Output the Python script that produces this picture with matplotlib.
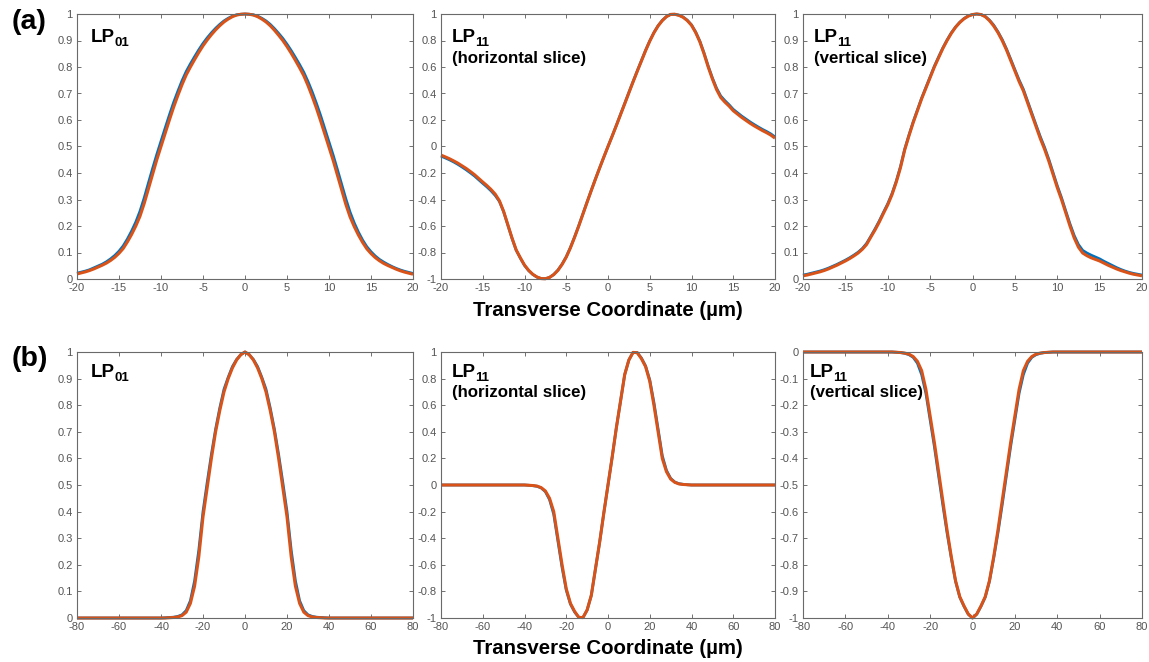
import numpy as np
import matplotlib
matplotlib.use('Agg')
import matplotlib.pyplot as plt
from matplotlib import ticker

plt.rcParams['font.family'] = ['Liberation Sans', 'DejaVu Sans']
plt.rcParams['axes.unicode_minus'] = False

# sample positions (um): 0.5 um steps for (a), 2 um steps for (b)
x_top = np.arange(-20, 20.25, 0.5)
x_bot = [-80, -60, -40, -38, -36, -34, -32, -30, -28, -26, -24, -22, -20, -18, -16, -14, -12, -10, -8, -6, -4, -2, 0,
         2, 4, 6, 8, 10, 12, 14, 16, 18, 20, 22, 24, 26, 28, 30, 32, 34, 36, 38, 40, 60, 80]

# (a) measured (blue) and fitted (orange) profiles
a_lp01_blue = [0.022, 0.026, 0.030, 0.035, 0.042, 0.049, 0.056, 0.065, 0.076, 0.089, 0.105, 0.125, 0.151, 0.181,
               0.215, 0.256, 0.306, 0.362, 0.417, 0.470, 0.520, 0.570, 0.619, 0.666, 0.708, 0.748, 0.783, 0.812,
               0.839, 0.865, 0.889, 0.910, 0.929, 0.946, 0.961, 0.974, 0.984, 0.992, 0.997, 0.999, 1.0,
               0.999, 0.997, 0.992, 0.984, 0.974, 0.961, 0.945, 0.927, 0.908, 0.886, 0.862, 0.836, 0.809, 0.780,
               0.745, 0.706, 0.663, 0.617, 0.567, 0.517, 0.467, 0.413, 0.358, 0.303, 0.253, 0.212, 0.177, 0.147,
               0.122, 0.103, 0.087, 0.074, 0.064, 0.055, 0.047, 0.040, 0.034, 0.029, 0.025, 0.021]
a_lp01_orange = [0.019, 0.023, 0.027, 0.032, 0.038, 0.045, 0.052, 0.060, 0.070, 0.082, 0.097, 0.115, 0.140, 0.168,
                 0.200, 0.237, 0.285, 0.340, 0.395, 0.450, 0.500, 0.550, 0.600, 0.648, 0.692, 0.733, 0.770, 0.800,
                 0.828, 0.855, 0.880, 0.902, 0.922, 0.940, 0.956, 0.970, 0.981, 0.990, 0.996, 0.999, 1.0,
                 0.999, 0.996, 0.990, 0.981, 0.970, 0.956, 0.939, 0.920, 0.900, 0.877, 0.852, 0.825, 0.797, 0.767,
                 0.730, 0.689, 0.645, 0.597, 0.547, 0.497, 0.447, 0.392, 0.337, 0.282, 0.235, 0.198, 0.166, 0.138,
                 0.114, 0.096, 0.081, 0.069, 0.059, 0.051, 0.044, 0.037, 0.031, 0.026, 0.022, 0.018]
a_lp11h_blue = [-0.073, -0.086, -0.100, -0.116, -0.134, -0.154, -0.175, -0.198, -0.222, -0.250, -0.278, -0.305,
                -0.335, -0.370, -0.415, -0.492, -0.592, -0.692, -0.782, -0.842, -0.897, -0.937, -0.966, -0.986,
                -0.997, -0.998, -0.988, -0.966, -0.933, -0.888, -0.832, -0.762, -0.682, -0.597, -0.507, -0.418,
                -0.330, -0.244, -0.161, -0.080, 0.0,
                0.079, 0.160, 0.243, 0.325, 0.408, 0.490, 0.570, 0.648, 0.726, 0.797, 0.860, 0.912, 0.952, 0.981,
                0.997, 0.998, 0.991, 0.977, 0.953, 0.918, 0.864, 0.795, 0.706, 0.607, 0.518, 0.440, 0.381, 0.346,
                0.315, 0.280, 0.255, 0.230, 0.208, 0.186, 0.166, 0.147, 0.129, 0.113, 0.095, 0.072]
a_lp11h_orange = [-0.065, -0.078, -0.092, -0.108, -0.125, -0.145, -0.165, -0.188, -0.212, -0.240, -0.268, -0.295,
                  -0.325, -0.360, -0.410, -0.490, -0.590, -0.690, -0.780, -0.840, -0.895, -0.935, -0.965, -0.985,
                  -0.997, -0.998, -0.988, -0.967, -0.935, -0.890, -0.835, -0.765, -0.685, -0.600, -0.510, -0.420,
                  -0.332, -0.246, -0.162, -0.080, 0.0,
                  0.078, 0.158, 0.240, 0.322, 0.405, 0.487, 0.567, 0.645, 0.723, 0.795, 0.858, 0.910, 0.950, 0.980,
                  0.997, 0.998, 0.990, 0.975, 0.950, 0.915, 0.860, 0.790, 0.700, 0.600, 0.510, 0.430, 0.370, 0.335,
                  0.305, 0.270, 0.245, 0.220, 0.198, 0.176, 0.156, 0.138, 0.120, 0.104, 0.086, 0.063]
a_lp11v_blue = [0.015, 0.018, 0.022, 0.026, 0.030, 0.035, 0.041, 0.048, 0.055, 0.063, 0.071, 0.080, 0.090, 0.101,
                0.115, 0.134, 0.161, 0.189, 0.219, 0.252, 0.284, 0.322, 0.369, 0.424, 0.490, 0.543, 0.593, 0.638,
                0.683, 0.723, 0.763, 0.803, 0.838, 0.872, 0.902, 0.929, 0.951, 0.969, 0.983, 0.993, 0.998,
                1.0, 0.998, 0.991, 0.977, 0.958, 0.933, 0.904, 0.869, 0.830, 0.790, 0.751, 0.716, 0.671, 0.626,
                0.581, 0.537, 0.497, 0.452, 0.402, 0.352, 0.307, 0.257, 0.208, 0.164, 0.130, 0.108, 0.098, 0.090,
                0.083, 0.076, 0.067, 0.059, 0.051, 0.043, 0.036, 0.030, 0.025, 0.021, 0.018, 0.015]
a_lp11v_orange = [0.012, 0.015, 0.019, 0.023, 0.027, 0.032, 0.038, 0.045, 0.052, 0.060, 0.068, 0.077, 0.087, 0.098,
                  0.112, 0.130, 0.158, 0.185, 0.215, 0.248, 0.280, 0.318, 0.365, 0.420, 0.487, 0.540, 0.590, 0.635,
                  0.680, 0.720, 0.760, 0.800, 0.835, 0.870, 0.900, 0.927, 0.950, 0.968, 0.982, 0.992, 0.998,
                  1.0, 0.998, 0.990, 0.975, 0.955, 0.930, 0.900, 0.865, 0.825, 0.785, 0.745, 0.710, 0.665, 0.620,
                  0.575, 0.530, 0.490, 0.445, 0.395, 0.345, 0.300, 0.250, 0.200, 0.155, 0.120, 0.098, 0.088, 0.080,
                  0.074, 0.068, 0.060, 0.052, 0.045, 0.038, 0.032, 0.027, 0.022, 0.018, 0.015, 0.012]

# (b) simulated profiles
b_lp01_blue = [0.0, 0.0, 0.0, 0.001, 0.002, 0.003, 0.006, 0.012, 0.028, 0.065, 0.14, 0.255, 0.40, 0.51, 0.615, 0.71,
               0.79, 0.86, 0.905, 0.945, 0.972, 0.99, 1.0, 0.99, 0.972, 0.945, 0.905, 0.86, 0.79, 0.71, 0.615, 0.51,
               0.40, 0.255, 0.14, 0.065, 0.028, 0.012, 0.006, 0.003, 0.002, 0.001, 0.0, 0.0, 0.0]
b_lp01_orange = [0.0, 0.0, 0.0, 0.0, 0.001, 0.002, 0.004, 0.009, 0.022, 0.055, 0.12, 0.23, 0.38, 0.49, 0.60, 0.70,
                 0.78, 0.85, 0.90, 0.94, 0.97, 0.99, 1.0, 0.99, 0.97, 0.94, 0.90, 0.85, 0.78, 0.70, 0.60, 0.49,
                 0.38, 0.23, 0.12, 0.055, 0.022, 0.009, 0.004, 0.002, 0.001, 0.0, 0.0, 0.0, 0.0]
b_lp11h_blue = [0.0, 0.0, 0.0, -0.002, -0.005, -0.01, -0.022, -0.05, -0.11, -0.22, -0.42, -0.62, -0.79, -0.895, -0.955,
                -0.995, -0.997, -0.94, -0.83, -0.63, -0.43, -0.21, 0.0, 0.21, 0.43, 0.63, 0.83, 0.94, 0.997, 0.995,
                0.955, 0.895, 0.79, 0.62, 0.42, 0.22, 0.11, 0.05, 0.022, 0.01, 0.005, 0.002, 0.0, 0.0, 0.0]
b_lp11h_orange = [0.0, 0.0, 0.0, -0.002, -0.004, -0.008, -0.02, -0.045, -0.10, -0.20, -0.40, -0.60, -0.78, -0.89, -0.95,
                  -0.995, -0.997, -0.94, -0.83, -0.63, -0.43, -0.21, 0.0, 0.21, 0.43, 0.63, 0.83, 0.94, 0.997, 0.995,
                  0.95, 0.89, 0.78, 0.60, 0.40, 0.20, 0.10, 0.045, 0.02, 0.008, 0.004, 0.002, 0.0, 0.0, 0.0]
b_lp11v_blue = [0.0, 0.0, 0.0, 0.0, -0.001, -0.002, -0.005, -0.01, -0.02, -0.042, -0.085, -0.155, -0.255, -0.355,
                -0.465, -0.575, -0.68, -0.775, -0.862, -0.922, -0.956, -0.986, -1.0, -0.986, -0.956, -0.922, -0.862,
                -0.775, -0.68, -0.575, -0.465, -0.355, -0.255, -0.155, -0.085, -0.042, -0.02, -0.01, -0.005, -0.002,
                -0.001, 0.0, 0.0, 0.0, 0.0]
b_lp11v_orange = [0.0, 0.0, 0.0, 0.0, -0.001, -0.002, -0.004, -0.008, -0.017, -0.035, -0.07, -0.14, -0.24, -0.34,
                  -0.45, -0.56, -0.67, -0.77, -0.86, -0.92, -0.955, -0.985, -1.0, -0.985, -0.955, -0.92, -0.86,
                  -0.77, -0.67, -0.56, -0.45, -0.34, -0.24, -0.14, -0.07, -0.035, -0.017, -0.008, -0.004, -0.002,
                  -0.001, 0.0, 0.0, 0.0, 0.0]

BLUE = '#0072BD'
ORANGE = '#D95319'

fig = plt.figure(figsize=(11.49, 6.62), dpi=100)

W, H = 1149.0, 662.0
cols = [(77, 336), (441, 334), (803, 339)]
rows = [(14, 265), (352, 266)]


def make_axes(row, col):
    left, width = cols[col]
    top, height = rows[row]
    return fig.add_axes([left / W, 1 - (top + height) / H, width / W, height / H])


def style(ax, xlim, xstep, ylim, ystep):
    ax.set_xlim(*xlim)
    ax.set_ylim(*ylim)
    ax.xaxis.set_major_locator(ticker.MultipleLocator(xstep))
    ax.yaxis.set_major_locator(ticker.MultipleLocator(ystep))
    fmt = ticker.FuncFormatter(lambda v, p: '%g' % round(v, 2))
    ax.xaxis.set_major_formatter(fmt)
    ax.yaxis.set_major_formatter(fmt)
    ax.tick_params(direction='in', top=True, right=True, length=3, width=0.6,
                   labelsize=8, colors='#5a5a5a', labelcolor='#555555', pad=3)
    for s in ax.spines.values():
        s.set_color('#6a6a6a')
        s.set_linewidth(0.8)


def label(ax, sub, slice_name, dx, dy, dy2):
    # "LP" with a hand-placed subscript, then the slice note underneath
    kw = dict(xy=(0, 1), xycoords='axes fraction', textcoords='offset pixels',
              fontweight='bold', va='baseline', ha='left')
    ax.annotate('LP', xytext=(dx, -dy), fontsize=13.5, **kw)
    ax.annotate(sub, xytext=(dx + 23.5, -dy - 4), fontsize=9.5, **kw)
    if slice_name:
        ax.annotate(slice_name, xytext=(dx, -dy2), fontsize=12.2, **kw)


panels = [
    (0, 0, x_top, a_lp01_blue, a_lp01_orange, (-20, 20), 5, (0, 1), 0.1, '01', None, 14),
    (0, 1, x_top, a_lp11h_blue, a_lp11h_orange, (-20, 20), 5, (-1, 1), 0.2, '11', '(horizontal slice)', 11),
    (0, 2, x_top, a_lp11v_blue, a_lp11v_orange, (-20, 20), 5, (0, 1), 0.1, '11', '(vertical slice)', 11),
    (1, 0, x_bot, b_lp01_blue, b_lp01_orange, (-80, 80), 20, (0, 1), 0.1, '01', None, 14),
    (1, 1, x_bot, b_lp11h_blue, b_lp11h_orange, (-80, 80), 20, (-1, 1), 0.2, '11', '(horizontal slice)', 11),
    (1, 2, x_bot, b_lp11v_blue, b_lp11v_orange, (-80, 80), 20, (-1, 0), 0.1, '11', '(vertical slice)', 7),
]

for row, col, x, yb, yo, xlim, xstep, ylim, ystep, mode, sub, dx in panels:
    ax = make_axes(row, col)
    ax.plot(x, yb, color=BLUE, lw=2.0, clip_on=False, solid_capstyle='butt')
    ax.plot(x, yo, color=ORANGE, lw=2.2, clip_on=False, solid_capstyle='butt')
    style(ax, xlim, xstep, ylim, ystep)
    if row == 0:
        label(ax, mode, sub, dx, 28, 49)
    else:
        label(ax, mode, sub, dx, 25, 45)

fig.text(29 / W, 1 - 22 / H, '(a)', fontsize=20.5, fontweight='bold', ha='center', va='center')
fig.text(30 / W, 1 - 359 / H, '(b)', fontsize=20.5, fontweight='bold', ha='center', va='center')
fig.text(608 / W, 1 - 311 / H, 'Transverse Coordinate (µm)', fontsize=14.7, fontweight='bold',
         ha='center', va='center')
fig.text(608 / W, 1 - 648 / H, 'Transverse Coordinate (µm)', fontsize=14.7, fontweight='bold',
         ha='center', va='center')

fig.savefig('out.png', dpi=100, facecolor='white')
